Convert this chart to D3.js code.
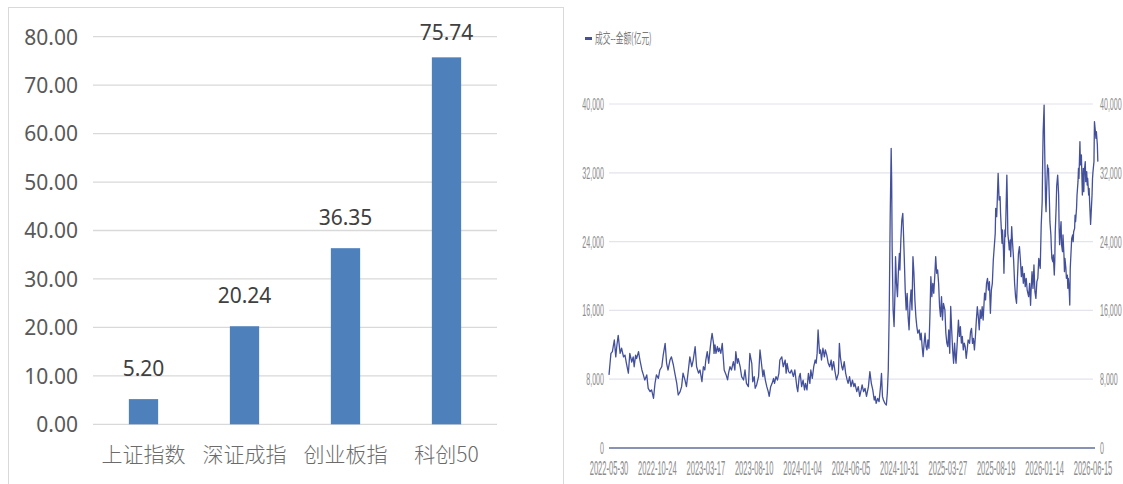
<!DOCTYPE html>
<html><head><meta charset="utf-8">
<script src="https://cdn.jsdelivr.net/npm/d3@7/dist/d3.min.js"></script>
<style>
html,body{margin:0;padding:0;background:#fff;}
svg{display:block;}
</style></head>
<body>
<svg id="chart" width="1123" height="484"></svg>
<script>
// ---------- Left panel data ----------
const categories = ["上证指数", "深证成指", "创业板指", "科创50"];
const barValues = [5.20, 20.24, 36.35, 75.74];
const barTicks = [0, 10, 20, 30, 40, 50, 60, 70, 80];

// ---------- Right panel data (trading-day index, turnover 亿元) ----------
const legendLabel = "成交--金额(亿元)";
const dateTicks = ["2022-05-30","2022-10-24","2023-03-17","2023-08-10","2024-01-04","2024-06-05","2024-10-31","2025-03-27","2025-08-19","2026-01-14","2026-06-15"];
const dateTickIdx = [0,100,200,300,400,500,600,700,800,900,1000];
const turnoverTicks = [0, 8000, 16000, 24000, 32000, 40000];
const dayIdx = [0,4,7,11,14,16,19,23,26,30,33,36,40,43,47,50,52,55,57,61,64,68,71,74,78,81,85,88,92,95,98,102,105,109,112,116,119,122,126,129,133,136,140,143,147,150,153,157,160,164,167,171,174,178,181,185,188,192,195,198,200,203,206,209,211,213,216,217,219,221,224,226,228,231,234,236,238,242,245,247,250,253,257,260,262,265,267,271,274,278,281,284,288,291,295,297,300,302,305,309,312,315,318,320,323,326,329,331,334,337,340,342,345,348,351,353,357,360,364,366,368,371,374,377,381,384,388,390,393,395,398,401,404,406,409,412,415,417,420,423,426,428,430,432,435,437,439,442,445,447,450,453,456,459,461,464,467,470,474,476,478,481,483,486,489,492,494,497,500,503,506,508,512,515,518,521,523,526,529,532,536,539,542,545,548,550,552,555,558,561,563,565,567,570,573,575,577,579,581,583,584,585,587,589,591,592,594,596,598,600,601,603,605,607,608,610,612,614,616,618,620,622,624,626,628,630,632,634,636,638,641,643,645,647,649,651,653,655,657,659,661,663,665,667,669,671,673,675,677,679,681,683,685,687,689,691,694,696,698,700,702,704,706,708,710,712,714,716,717,719,722,724,726,728,730,732,734,736,738,740,742,745,747,749,751,753,755,757,759,761,763,765,767,769,771,773,776,778,780,782,784,786,788,790,792,794,796,798,799,801,802,804,805,806,808,809,811,812,813,815,816,818,819,820,822,823,824,826,827,829,830,832,833,836,838,840,842,844,846,848,850,852,854,856,858,860,862,864,867,869,871,872,874,876,878,880,882,884,886,888,891,893,895,896,897,899,900,902,903,904,906,907,908,910,911,913,914,915,917,918,920,921,922,924,925,927,929,930,931,933,934,935,937,938,940,941,942,944,945,947,948,949,951,952,953,955,956,958,959,960,962,963,964,966,967,969,970,971,973,974,976,977,978,980,981,982,984,985,987,988,989,991,992,993,995,996,998,999,1000,1002,1003,1005,1006,1007,1009,1010];
const turnover = [8500,11000,11200,12560,10600,11800,13100,11000,11600,10600,10800,9850,8700,11000,10000,10600,9450,10800,10400,11200,10200,9070,8500,7900,8500,6940,6550,6750,5780,7500,8500,8100,9070,9450,10800,12170,9850,9070,10230,10600,9650,8700,7520,6160,6550,7130,8700,7900,7130,9070,10600,9450,10230,11780,9450,8700,9070,7710,9450,9070,10230,11200,9850,11590,12560,13330,12170,11000,12000,11000,11800,11200,11600,11000,12170,10600,9070,8500,7920,8700,9450,9070,10040,9070,11200,9850,10400,9450,8300,7910,9070,7520,7130,11000,9850,7700,8300,6940,7330,8300,11400,9850,8300,9070,7900,7130,6550,6000,7130,7520,8100,7520,8300,7900,8680,10230,10600,9450,10230,8700,9850,8880,8700,9070,8300,9070,7130,6550,8300,8680,7130,7900,6750,7520,6750,8680,7520,9070,8100,9450,10230,9850,11000,13720,11000,11400,10230,11600,10600,11400,10800,9850,9450,10230,9070,10040,8880,7920,8680,12170,10600,9450,9070,10040,8680,7920,7520,8300,7130,7900,7130,7520,6550,7130,6000,6750,7330,6550,6940,6000,7130,8880,7520,6750,5580,6000,5190,5770,5390,7130,8680,6000,5580,5190,5000,6360,9070,16000,27000,34850,31170,23430,16050,14120,18370,22250,19150,17600,20700,22640,20700,24190,26510,27290,25730,22250,18370,16050,17990,15280,13740,16820,18370,16050,22250,20310,17220,15280,14120,13350,13740,12580,13350,11780,10620,12170,13350,11800,11400,12580,11600,15280,19920,17600,19150,17990,19920,22250,20310,20700,19150,16430,15280,17600,14880,16820,16050,13350,12200,11780,13740,11010,16460,13740,11400,9850,12200,10400,9850,11780,14880,12970,14120,12200,12970,11400,12200,11780,10430,11400,12560,12170,13530,13910,12170,12750,11400,12970,14880,16430,15270,13740,16050,15080,16430,14880,18000,17220,19150,19730,18370,19340,15660,18370,19150,21840,23390,24960,27870,26900,28450,31940,30390,28840,29230,27290,24960,23800,25350,23030,20310,25350,24580,26900,31740,28840,24960,23800,23030,24190,22250,25740,24580,21870,19150,17600,16830,19920,22640,23420,21870,19920,21090,19150,20310,18760,19730,18370,17600,19150,16600,18170,20500,18560,21280,18180,17400,19340,19730,22050,20890,25930,28640,33290,36780,39880,35230,28640,27480,29800,32910,32140,32520,28640,26320,24770,23220,22050,21660,22440,20110,21660,25150,28250,30500,31740,29420,25540,23640,25540,26320,23640,22830,24770,22440,20500,22050,20890,19730,20110,18570,19730,18180,16630,20890,23220,24380,24770,24000,25150,25540,27090,26320,27870,29420,30970,32520,31350,35620,32910,34070,31740,29420,32520,29800,32140,33300,30970,32140,30580,31350,29420,30190,28640,26000,27090,29420,31350,32140,33300,37950,36780,36010,36780,35230,33300];

const svg = d3.select("#chart");

// ================= LEFT PANEL =================
svg.append("rect").attr("x", 8.5).attr("y", 7.5).attr("width", 555).attr("height", 490)
  .attr("fill", "none").attr("stroke", "#d9d9d9").attr("stroke-width", 1);

const L = {left: 93, right: 497, top: 36.7, bottom: 424.3};
const xb = d3.scaleBand().domain(categories).range([L.left, L.right]).paddingInner(0.71).paddingOuter(0.355);
const yb = d3.scaleLinear().domain([0, 80]).range([L.bottom, L.top]);

const gl = svg.append("g");
gl.selectAll("line.grid").data(barTicks).join("line")
  .attr("x1", L.left).attr("x2", L.right)
  .attr("y1", d => yb(d)).attr("y2", d => yb(d))
  .attr("stroke", "#d9d9d9").attr("stroke-width", 1.3);

const yAxisL = d3.axisLeft(yb).tickValues(barTicks).tickFormat(d3.format(".2f")).tickSize(0).tickPadding(0);
const ga = svg.append("g").attr("transform", `translate(78,0)`).call(yAxisL);
ga.select(".domain").remove();
ga.selectAll("text").attr("font-family", "'Noto Sans', 'Liberation Sans', sans-serif")
  .attr("font-size", 21).attr("fill", "#595959").attr("dy", "0.35em");

gl.selectAll("rect.bar").data(barValues).join("rect")
  .attr("x", (d, i) => xb(categories[i])).attr("width", xb.bandwidth())
  .attr("y", d => yb(d)).attr("height", d => yb(0) - yb(d))
  .attr("fill", "#4e80bc");

gl.selectAll("text.val").data(barValues).join("text")
  .attr("x", (d, i) => xb(categories[i]) + xb.bandwidth() / 2)
  .attr("y", d => Math.max(yb(d) - 23, 40))
  .attr("text-anchor", "middle")
  .attr("font-family", "'Noto Sans', 'Liberation Sans', sans-serif")
  .attr("font-size", 21).attr("fill", "#404040")
  .text(d => d.toFixed(2));

const xAxisL = d3.axisBottom(xb).tickSize(0).tickPadding(0);
const gxa = svg.append("g").attr("transform", `translate(0,${L.bottom})`).call(xAxisL);
gxa.select(".domain").remove();
gxa.selectAll("text").attr("font-family", "'Noto Sans CJK SC', sans-serif")
  .attr("font-size", 21).attr("fill", "#6b6b6b").attr("dy", "1.8em").attr("font-weight", 300);

// ================= RIGHT PANEL =================
const R = {left: 609, right: 1093, top: 104, bottom: 448};
const xr = d3.scaleLinear().domain([0, 1000]).range([R.left, R.right]);
const yr = d3.scaleLinear().domain([0, 40000]).range([R.bottom, R.top]);
const fmt = d3.format(",");
const condensed = "'Liberation Sans', 'Noto Sans', sans-serif";

const gr = svg.append("g");
gr.selectAll("line.rgrid").data(turnoverTicks.filter(d => d > 0)).join("line")
  .attr("x1", R.left).attr("x2", R.right)
  .attr("y1", d => yr(d)).attr("y2", d => yr(d))
  .attr("stroke", "#e3e4ec").attr("stroke-width", 1.2);

// zero axis line
gr.append("line").attr("x1", R.left).attr("x2", R.right + 2)
  .attr("y1", yr(0)).attr("y2", yr(0))
  .attr("stroke", "#8892b4").attr("stroke-width", 2);

// left & right y labels (condensed)
gr.selectAll("text.yl").data(turnoverTicks).join("text")
  .attr("transform", d => `translate(604,${yr(d) + 6}) scale(0.43,1)`)
  .attr("text-anchor", "end").attr("font-family", condensed).attr("font-size", 16.5)
  .attr("fill", "#8c8c8c").text(d => fmt(d));
gr.selectAll("text.yr").data(turnoverTicks).join("text")
  .attr("transform", d => `translate(1100,${yr(d) + 6}) scale(0.43,1)`)
  .attr("text-anchor", "start").attr("font-family", condensed).attr("font-size", 16.5)
  .attr("fill", "#8c8c8c").text(d => fmt(d));

// x labels
gr.selectAll("text.xl").data(dateTicks).join("text")
  .attr("transform", (d, i) => `translate(${xr(dateTickIdx[i])},475) scale(0.36,1)`)
  .attr("text-anchor", "middle").attr("font-family", condensed).attr("font-size", 21)
  .attr("fill", "#8c8c8c").text(d => d);

// line
const series = dayIdx.map((d, i) => [d, turnover[i]]);
gr.append("path").datum(series)
  .attr("fill", "none").attr("stroke", "#43509c").attr("stroke-width", 1.3)
  .attr("stroke-linejoin", "round")
  .attr("d", d3.line().x(d => xr(d[0])).y(d => yr(d[1])));

// legend
gr.append("rect").attr("x", 585).attr("y", 37).attr("width", 7).attr("height", 3).attr("fill", "#43509c");
gr.append("text").attr("transform", "translate(595,43) scale(0.55,1)")
  .attr("font-family", "'Noto Sans CJK SC', sans-serif").attr("font-size", 14)
  .attr("fill", "#7a7a7a").text(legendLabel);
</script>
</body></html>
